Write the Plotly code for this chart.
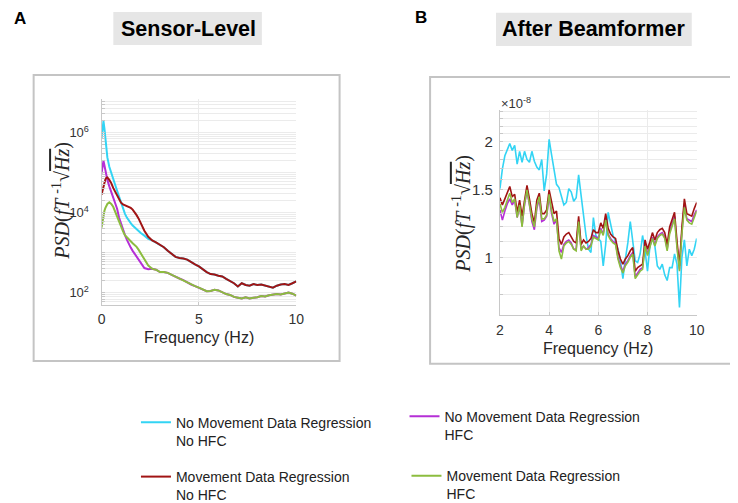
import plotly.graph_objects as go

W, H = 738, 503


def px(x):
    return x / W


def py(y):
    return 1 - y / H


# ---------------- data ----------------
SERIES_NAMES = [
    "No Movement Data Regression<br>No HFC",
    "No Movement Data Regression<br>HFC",
    "Movement Data Regression<br>No HFC",
    "Movement Data Regression<br>HFC",
]
COLORS = ["#33d4f4", "#b52fd6", "#a11414", "#8cbd3f"]

# Panel A: sensor-level PSD (fT^-1 sqrt(Hz))
sensor_freq = [0, 0.05, 0.1, 0.15, 0.2, 0.25, 0.3, 0.4, 0.5, 0.6, 0.7, 0.8, 0.9, 1.0,
               1.1, 1.2, 1.3, 1.4, 1.5, 1.6, 1.7, 1.8, 1.9, 2.0,
               2.2, 2.4, 2.6, 2.8, 3.0, 3.2, 3.4, 3.6, 3.8, 4.0,
               4.2, 4.4, 4.6, 4.8, 5.0, 5.2, 5.4, 5.6, 5.8, 6.0,
               6.2, 6.4, 6.6, 6.8, 7.0, 7.2, 7.4, 7.6, 7.8, 8.0,
               8.2, 8.4, 8.6, 8.8, 9.0, 9.2, 9.4, 9.6, 9.8, 10.0]

sensor_nomov_nohfc = [7.08e5, 1.12e6, 1.95e6, 1.26e6, 6.31e5, 3.55e5, 2.40e5, 1.41e5, 9.55e4, 7.08e4,
                      5.01e4, 3.55e4, 2.51e4, 1.91e4, 1.26e4, 9.55e3, 7.59e3, 6.31e3, 5.50e3, 4.79e3,
                      4.27e3, 3.89e3, 3.55e3, 3.16e3, 2690, 2240, 2040, 1820, 1580, 1380,
                      1120, 955, 794, 741, 724, 676, 575, 513, 457, 380,
                      331, 295, 288, 269, 257, 224, 200, 174, 145, 174,
                      158, 151, 166, 158, 162, 151, 141, 135, 151, 162,
                      166, 158, 174, 195]
sensor_nomov_hfc = [9.55e4, 1.41e5, 2.00e5, 1.51e5, 1.05e5, 8.32e4, 6.61e4, 4.57e4, 3.31e4, 2.40e4,
                    1.66e4, 1.26e4, 7.59e3, 5.25e3, 3.80e3, 2.82e3, 2.14e3, 1.66e3, 1.35e3, 1.12e3,
                    955, 832, 708, 603, 417, 389, 398, 380, 331, 331,
                    316, 282, 251, 229, 209, 182, 162, 148, 135, 123,
                    110, 112, 120, 115, 102, 93.3, 89.1, 79.4, 75.9, 72.4,
                    77.6, 72.4, 75.9, 77.6, 83.2, 81.3, 87.1, 91.2, 93.3, 91.2,
                    97.7, 102, 95.5, 85.1]
sensor_mov_nohfc = [2.82e4, 3.55e4, 4.79e4, 6.03e4, 6.92e4, 7.41e4, 7.59e4, 6.61e4, 5.50e4, 4.17e4,
                    3.31e4, 2.63e4, 2.09e4, 1.78e4, 1.62e4, 1.55e4, 1.48e4, 1.41e4, 1.32e4, 1.20e4,
                    1.05e4, 8.71e3, 7.24e3, 5.75e3, 3550, 2510, 2040, 1820, 1580, 1380,
                    1120, 955, 794, 741, 724, 676, 575, 513, 457, 380,
                    331, 295, 288, 269, 257, 224, 200, 174, 145, 174,
                    158, 151, 166, 158, 162, 151, 141, 135, 151, 162,
                    166, 158, 174, 195]
sensor_mov_hfc = [4.27e3, 6.31e3, 8.91e3, 1.12e4, 1.32e4, 1.51e4, 1.66e4, 1.82e4, 1.66e4, 1.41e4,
                  1.05e4, 7.59e3, 5.75e3, 4.37e3, 3.47e3, 2.75e3, 2.40e3, 2.14e3, 1.95e3, 1.74e3,
                  1.58e3, 1.41e3, 1.20e3, 1.00e3, 724, 479, 398, 380, 331, 331,
                  316, 282, 251, 229, 209, 182, 162, 148, 135, 123,
                  110, 112, 120, 115, 102, 93.3, 89.1, 79.4, 75.9, 72.4,
                  77.6, 72.4, 75.9, 77.6, 83.2, 81.3, 87.1, 91.2, 93.3, 91.2,
                  97.7, 102, 95.5, 85.1]

# Panel B: after beamformer, PSD values in units of 1e-8
beam_freq = [2.0, 2.1, 2.2, 2.3, 2.4, 2.5, 2.6, 2.7, 2.8, 2.9,
             3.0, 3.1, 3.2, 3.3, 3.4, 3.5, 3.6, 3.7, 3.8, 3.9,
             4.0, 4.1, 4.2, 4.3, 4.4, 4.5, 4.6, 4.7, 4.8, 4.9,
             5.0, 5.1, 5.2, 5.3, 5.4, 5.5, 5.6, 5.7, 5.8, 5.9,
             6.0, 6.1, 6.2, 6.3, 6.4, 6.5, 6.6, 6.7, 6.8, 6.9,
             7.0, 7.1, 7.2, 7.3, 7.4, 7.5, 7.6, 7.7, 7.8, 7.9,
             8.0, 8.1, 8.2, 8.3, 8.4, 8.5, 8.6, 8.7, 8.8, 8.9,
             9.0, 9.1, 9.2, 9.3, 9.4, 9.5, 9.6, 9.7, 9.8, 9.9, 10.0]

beam_nomov_nohfc = [1.51, 1.70, 1.84, 1.92, 1.98, 1.90, 1.96, 1.75, 1.89, 1.77,
                    1.89, 1.80, 1.77, 1.89, 1.78, 1.72, 1.69, 1.80, 1.49, 1.65,
                    2.03, 1.85, 1.70, 1.55, 1.52, 1.44, 1.37, 1.39, 1.51, 1.48,
                    1.40, 1.43, 1.64, 1.45, 1.28, 1.14, 1.05, 1.03, 1.27, 1.14,
                    1.12, 1.10, 0.95, 1.08, 1.31, 1.22, 1.14, 1.10, 1.05, 0.98,
                    0.88, 0.99, 1.09, 1.24, 1.09, 0.98, 0.97, 1.02, 1.14, 1.04,
                    0.92, 1.07, 1.12, 1.07, 0.95, 0.93, 0.96, 0.90, 0.87, 0.94,
                    0.94, 1.02, 0.96, 0.74, 1.00, 1.11, 0.95, 1.05, 1.01, 1.05, 1.12]
beam_nomov_hfc = [1.33, 1.25, 1.32, 1.38, 1.42, 1.37, 1.41, 1.27, 1.36, 1.21,
                  1.37, 1.49, 1.37, 1.24, 1.18, 1.34, 1.42, 1.24, 1.25, 1.28,
                  1.45, 1.30, 1.22, 1.25, 1.06, 1.03, 1.08, 1.10, 1.11, 1.09,
                  1.05, 1.05, 1.25, 1.05, 1.07, 1.05, 1.06, 1.08, 1.14, 1.13,
                  1.12, 1.19, 1.15, 1.26, 1.15, 1.12, 1.10, 1.09, 1.00, 0.95,
                  0.92, 0.96, 0.98, 1.01, 1.03, 0.89, 0.91, 0.93, 0.94, 1.08,
                  1.02, 1.07, 1.13, 1.08, 1.13, 1.15, 1.16, 1.13, 1.05, 1.17,
                  1.22, 1.28, 1.07, 0.93, 1.17, 1.38, 1.26, 1.25, 1.24, 1.29, 1.33]
beam_mov_nohfc = [1.43, 1.37, 1.42, 1.47, 1.53, 1.44, 1.46, 1.31, 1.41, 1.28,
                  1.42, 1.54, 1.42, 1.30, 1.23, 1.41, 1.47, 1.30, 1.30, 1.33,
                  1.50, 1.38, 1.30, 1.32, 1.12, 1.08, 1.13, 1.15, 1.16, 1.13,
                  1.10, 1.09, 1.28, 1.08, 1.11, 1.09, 1.10, 1.12, 1.18, 1.16,
                  1.16, 1.23, 1.19, 1.30, 1.19, 1.15, 1.13, 1.12, 1.04, 0.99,
                  0.96, 0.99, 1.01, 1.04, 1.06, 0.92, 0.94, 0.95, 0.96, 1.11,
                  1.05, 1.10, 1.16, 1.11, 1.16, 1.18, 1.19, 1.16, 1.08, 1.20,
                  1.25, 1.31, 1.10, 0.95, 1.20, 1.42, 1.30, 1.29, 1.28, 1.34, 1.39]
beam_mov_hfc = [1.38, 1.31, 1.35, 1.41, 1.47, 1.39, 1.42, 1.27, 1.37, 1.20,
                1.38, 1.50, 1.38, 1.26, 1.20, 1.36, 1.44, 1.26, 1.26, 1.29,
                1.46, 1.32, 1.24, 1.26, 1.04, 0.99, 1.07, 1.09, 1.10, 1.08,
                1.05, 1.04, 1.24, 1.04, 1.07, 1.05, 1.05, 1.07, 1.13, 1.12,
                1.11, 1.18, 1.14, 1.25, 1.14, 1.11, 1.09, 1.08, 0.99, 0.94,
                0.91, 0.95, 0.97, 1.00, 1.02, 0.88, 0.90, 0.92, 0.93, 1.07,
                1.01, 1.06, 1.12, 1.07, 1.12, 1.14, 1.15, 1.12, 1.04, 1.15,
                1.20, 1.26, 1.06, 0.92, 1.15, 1.35, 1.25, 1.23, 1.22, 1.27, 1.32]

sensor_series = [sensor_nomov_nohfc, sensor_nomov_hfc, sensor_mov_nohfc, sensor_mov_hfc]
beam_series = [beam_nomov_nohfc, beam_nomov_hfc, beam_mov_nohfc, beam_mov_hfc]

# tick definitions
sensor_xticks = [0, 5, 10]
sensor_ygrid = [m * 10 ** k for k in range(1, 7) for m in range(1, 10)]
sensor_ylabels = {100: "10<sup>2</sup>", 10000: "10<sup>4</sup>", 1000000: "10<sup>6</sup>"}
beam_xticks = [2, 4, 6, 8, 10]
beam_ygrid = [0.8, 0.9, 1.0, 1.1, 1.2, 1.3, 1.4, 1.5, 1.6, 1.7, 1.8, 1.9, 2.0, 2.1, 2.2, 2.3, 2.4]
beam_ylabels = {1.0: "1", 1.5: "1.5", 2.0: "2"}

# ---------------- figure ----------------
fig = go.Figure()
legend_ids = ["legend", "legend2", "legend3", "legend4"]

for name, color, vals, lg in zip(SERIES_NAMES, COLORS, sensor_series, legend_ids):
    fig.add_trace(go.Scatter(x=sensor_freq, y=vals, mode="lines", name=name,
                             line=dict(color=color, width=2), legend=lg,
                             xaxis="x", yaxis="y"))
for name, color, vals in zip(SERIES_NAMES, COLORS, beam_series):
    fig.add_trace(go.Scatter(x=beam_freq, y=vals, mode="lines", name=name,
                             line=dict(color=color, width=1.6), showlegend=False,
                             xaxis="x2", yaxis="y2"))

SANS = "Liberation Sans, Arial, sans-serif"
XTICKFONT = dict(family=SANS, size=14, color="#333333")
LOGTICKFONT = dict(family=SANS, size=13, color="#333333")
YTICKFONT = dict(family=SANS, size=15, color="#333333")
GRID = "#ebebeb"
AXLINE = "#c8c8c8"

fig.update_layout(
    width=W, height=H,
    margin=dict(l=0, r=0, t=0, b=0),
    paper_bgcolor="white", plot_bgcolor="white",
    font=dict(family=SANS, color="#222222"),
    xaxis=dict(domain=[px(91), px(289)], anchor="y", range=[0, 10],
               tickvals=sensor_xticks, ticks="inside", ticklen=3, tickcolor=AXLINE,
               showline=True, linecolor=AXLINE, linewidth=1, ticklabelstandoff=2,
               showgrid=True, gridcolor=GRID, zeroline=False, tickfont=XTICKFONT),
    yaxis=dict(domain=[py(305), py(94)], anchor="x", type="log", range=[1.71, 6.83],
               tickvals=sensor_ygrid,
               ticktext=[sensor_ylabels.get(v, "") for v in sensor_ygrid],
               ticks="inside", ticklen=3, tickcolor=AXLINE,
               showline=True, linecolor=AXLINE, linewidth=1, ticklabelstandoff=9,
               showgrid=True, gridcolor=GRID, zeroline=False, tickfont=LOGTICKFONT),
    xaxis2=dict(domain=[px(496), px(696)], anchor="y2", range=[2, 10],
                tickvals=beam_xticks, ticks="inside", ticklen=3, tickcolor=AXLINE,
                showline=True, linecolor=AXLINE, linewidth=1, ticklabelstandoff=2,
                showgrid=True, gridcolor=GRID, zeroline=False, tickfont=XTICKFONT),
    yaxis2=dict(domain=[py(316), py(105)], anchor="x2", type="log", range=[-0.151, 0.384],
                tickvals=beam_ygrid,
                ticktext=[beam_ylabels.get(v, "") for v in beam_ygrid],
                ticks="inside", ticklen=3, tickcolor=AXLINE,
                showline=True, linecolor=AXLINE, linewidth=1, ticklabelstandoff=3,
                showgrid=True, gridcolor=GRID, zeroline=False, tickfont=YTICKFONT),
)

LEGFONT = dict(family=SANS, size=14, color="#222222")
leg_common = dict(xanchor="left", yanchor="top", bgcolor="rgba(0,0,0,0)", borderwidth=0,
                  font=LEGFONT, valign="top", itemwidth=30)
fig.update_layout(
    legend=dict(x=px(126), y=py(410), **leg_common),
    legend2=dict(x=px(399), y=py(404), **leg_common),
    legend3=dict(x=px(126), y=py(466), **leg_common),
    legend4=dict(x=px(401), y=py(465), **leg_common),
)

# panel frames and title boxes
shapes = [
    dict(type="rect", xref="paper", yref="paper", x0=px(22), x1=px(333), y0=py(363), y1=py(69),
         line=dict(color="#c4c4c4", width=2), fillcolor="rgba(0,0,0,0)", layer="below"),
    dict(type="rect", xref="paper", yref="paper", x0=px(425), x1=px(736), y0=py(366), y1=py(71),
         line=dict(color="#c4c4c4", width=2), fillcolor="rgba(0,0,0,0)", layer="below"),
    dict(type="rect", xref="paper", yref="paper", x0=px(103), x1=px(254), y0=py(38), y1=py(4),
         line=dict(width=0), fillcolor="#e6e6e6", layer="below"),
    dict(type="rect", xref="paper", yref="paper", x0=px(492), x1=px(691), y0=py(39), y1=py(5),
         line=dict(width=0), fillcolor="#e6e6e6", layer="below"),
]
fig.update_layout(shapes=shapes)

YTITLE = ("<i>PSD</i>(<i>fT</i> <sup>-1</sup>√"
          "<span style='text-decoration:overline'><i>Hz</i></span>)")
SERIF = dict(family="Liberation Serif, Times New Roman, serif", size=20, color="#262626")
LBL = dict(family=SANS, size=16, color="#262626")
BOLD = dict(family=SANS, size=21.5, color="#000000")

annotations = [
    dict(text="<b>A</b>", x=px(8), y=py(11), font=dict(family=SANS, size=17, color="#000")),
    dict(text="<b>B</b>", x=px(416), y=py(10), font=dict(family=SANS, size=17, color="#000")),
    dict(text="<b>Sensor-Level</b>", x=px(179), y=py(22), font=BOLD),
    dict(text="<b>After Beamformer</b>", x=px(591), y=py(22), font=BOLD),
    dict(text=YTITLE, x=px(50), y=py(198), textangle=-90, font=SERIF),
    dict(text=YTITLE, x=px(457), y=py(212), textangle=-90, font=SERIF),
    dict(text="Frequency (Hz)", x=px(190), y=py(339), font=LBL),
    dict(text="Frequency (Hz)", x=px(596), y=py(350), font=LBL),
    dict(text="×10<sup>-8</sup>", x=px(495), y=py(98), xanchor="left",
         font=dict(family=SANS, size=13, color="#333333")),
]
for a in annotations:
    a.setdefault("xanchor", "center")
    a.update(xref="paper", yref="paper", yanchor="middle", showarrow=False)
fig.update_layout(annotations=annotations)

fig.write_html("out.html")
